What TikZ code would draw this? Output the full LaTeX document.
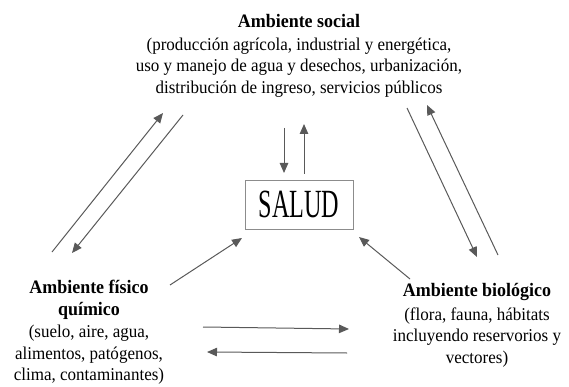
\documentclass[tikz,border=0pt]{standalone}
\usepackage{fontspec}
\usepackage{graphicx}
\setmainfont{Liberation Serif}[FakeStretch=0.945]
\usetikzlibrary{arrows.meta}
\begin{document}
\begin{tikzpicture}[x=1pt,y=-1pt,
  lbl/.style={align=center, inner sep=0pt, font=\fontsize{18}{21.5}\selectfont},
  box/.style={draw=black!45, line width=0.7pt, minimum width=108pt, minimum height=49pt, inner sep=0pt},
  conn/.style={draw=black!65, line width=1pt, -{Triangle[length=10pt,width=8.5pt]}}]
\useasboundingbox (0,0) rectangle (569,387);

\node[lbl, anchor=north] (social) at (299,14)
  {{\fontsize{19}{21.5}\selectfont\bfseries Ambiente social}\\[1.5pt]
   (producción agrícola, industrial y energética,\\
   uso y manejo de agua y desechos, urbanización,\\
   distribución de ingreso, servicios públicos};

\node[box] (salud) at (299,204.5)
  {\scalebox{0.64}[1]{\fontsize{40}{40}\selectfont SALUD}};

\node[lbl, anchor=north] (fisico) at (89,280)
  {{\fontsize{19}{21.5}\selectfont\bfseries Ambiente físico}\\
   {\fontsize{19}{21.5}\selectfont\bfseries químico}\\[1pt]
   (suelo, aire, agua,\\
   alimentos, patógenos,\\
   clima, contaminantes)};

\node[lbl, anchor=north] (bio) at (477,283)
  {{\fontsize{19}{21.5}\selectfont\bfseries Ambiente biológico}\\[2.5pt]
   (flora, fauna, hábitats\\
   incluyendo reservorios y\\
   vectores)};

% arrow end points
\coordinate (a1s) at (52,252);  \coordinate (a1e) at (163,113);
\coordinate (a2s) at (183,115); \coordinate (a2e) at (72,253);
\coordinate (a3s) at (407,108); \coordinate (a3e) at (477,257);
\coordinate (a4s) at (498,255); \coordinate (a4e) at (427,105);
\coordinate (a5s) at (284,128); \coordinate (a5e) at (284,173);
\coordinate (a6s) at (304,174); \coordinate (a6e) at (304,124);
\coordinate (a7s) at (170,285); \coordinate (a7e) at (242,238);
\coordinate (a8s) at (410,279); \coordinate (a8e) at (359,237);
\coordinate (a9s) at (203,327); \coordinate (a9e) at (349,329);
\coordinate (a10s) at (347,353); \coordinate (a10e) at (207,352);

\draw[conn] (a1s) -- (a1e);
\draw[conn] (a2s) -- (a2e);
\draw[conn] (a3s) -- (a3e);
\draw[conn] (a4s) -- (a4e);
\draw[conn] (a5s) -- (a5e);
\draw[conn] (a6s) -- (a6e);
\draw[conn] (a7s) -- (a7e);
\draw[conn] (a8s) -- (a8e);
\draw[conn] (a9s) -- (a9e);
\draw[conn] (a10s) -- (a10e);
\end{tikzpicture}
\end{document}
